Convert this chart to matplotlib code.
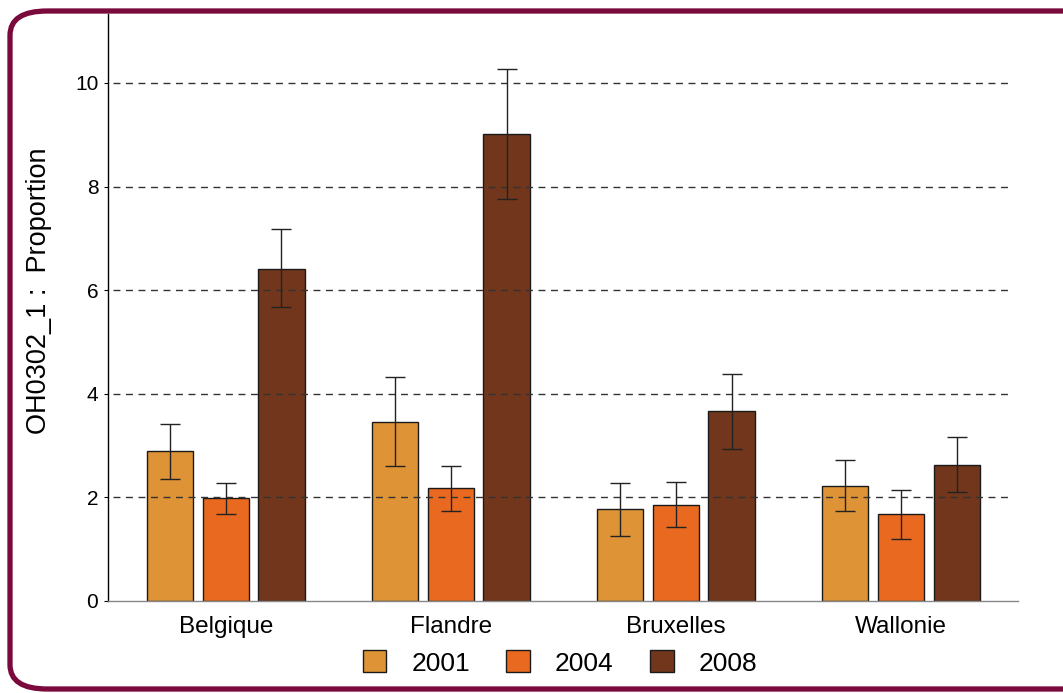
import numpy as np
import matplotlib.pyplot as plt
from matplotlib.patches import FancyBboxPatch, Patch

plt.rcParams['font.family'] = ['Liberation Sans', 'DejaVu Sans']

regions = ['Belgique', 'Flandre', 'Bruxelles', 'Wallonie']
years = ['2001', '2004', '2008']

# proportion per year, one list per year (regions in order)
prop_2001 = [2.90, 3.46, 1.78, 2.22]
prop_2004 = [1.99, 2.18, 1.85, 1.68]
prop_2008 = [6.41, 9.02, 3.67, 2.63]

# confidence interval bounds
low_2001 = [2.36, 2.61, 1.25, 1.74]
high_2001 = [3.42, 4.32, 2.28, 2.72]
low_2004 = [1.68, 1.74, 1.43, 1.20]
high_2004 = [2.28, 2.61, 2.30, 2.14]
low_2008 = [5.68, 7.76, 2.93, 2.10]
high_2008 = [7.18, 10.27, 4.38, 3.17]

colors = ['#de9436', '#e8691f', '#71361b']

fig = plt.figure(figsize=(10.63, 6.93), dpi=100)
ax = fig.add_axes([108 / 1063, 92 / 693, 910 / 1063, 587 / 693])

x = np.arange(len(regions))
pitch = 0.247
width = 0.205
series = [(prop_2001, low_2001, high_2001),
          (prop_2004, low_2004, high_2004),
          (prop_2008, low_2008, high_2008)]

for i, (vals, lo, hi) in enumerate(series):
    vals = np.array(vals)
    yerr = [vals - np.array(lo), np.array(hi) - vals]
    pos = x + (i - 1) * pitch
    ax.bar(pos, vals, width, color=colors[i], edgecolor='#1a1a1a', linewidth=1.0, zorder=2)
    ax.errorbar(pos, vals, yerr=yerr, fmt='none', ecolor='#222222',
                elinewidth=1.0, capsize=7, capthick=1.0, zorder=4)

# dashed reference lines, drawn above the bars
for yv in [2, 4, 6, 8, 10]:
    ax.plot([-0.5, 3.5], [yv, yv], linestyle=(0, (5, 4)), color='#333333',
            linewidth=1.0, zorder=3)

ax.set_xlim(-0.524, 3.52)
ax.set_ylim(0, 11.33)
ax.set_yticks([0, 2, 4, 6, 8, 10])
ax.set_xticks(x)
ax.set_xticklabels(regions, fontsize=17.5)
ax.tick_params(axis='x', length=0, pad=11)
ax.tick_params(axis='y', length=3, width=0.8, labelsize=15, pad=4)
ax.set_ylabel('OH0302_1 :  Proportion', fontsize=19.5)
ax.yaxis.set_label_coords(-0.0615, 0.528)

for s in ['top', 'right']:
    ax.spines[s].set_visible(False)
ax.spines['left'].set_linewidth(1.0)
ax.spines['bottom'].set_color('#888888')
ax.spines['bottom'].set_linewidth(1.0)

handles = [Patch(facecolor=c, edgecolor='#1a1a1a', linewidth=1.0) for c in colors]
fig.legend(handles, years, loc='center', bbox_to_anchor=(560 / 1063, 1 - 663 / 693),
           ncol=3, frameon=False, fontsize=19, handlelength=0.9, handleheight=0.9,
           handletextpad=0.95, columnspacing=1.37)

# rounded outer frame
frame = FancyBboxPatch((10 / 1063, 4 / 693), 1.05, 1 - 15 / 693,
                       boxstyle='round,pad=0,rounding_size=0.035',
                       transform=fig.transFigure, facecolor='none',
                       edgecolor='#7a0a3c', linewidth=3.8, clip_on=False)
fig.patches.append(frame)

fig.savefig('out.png', dpi=100)
